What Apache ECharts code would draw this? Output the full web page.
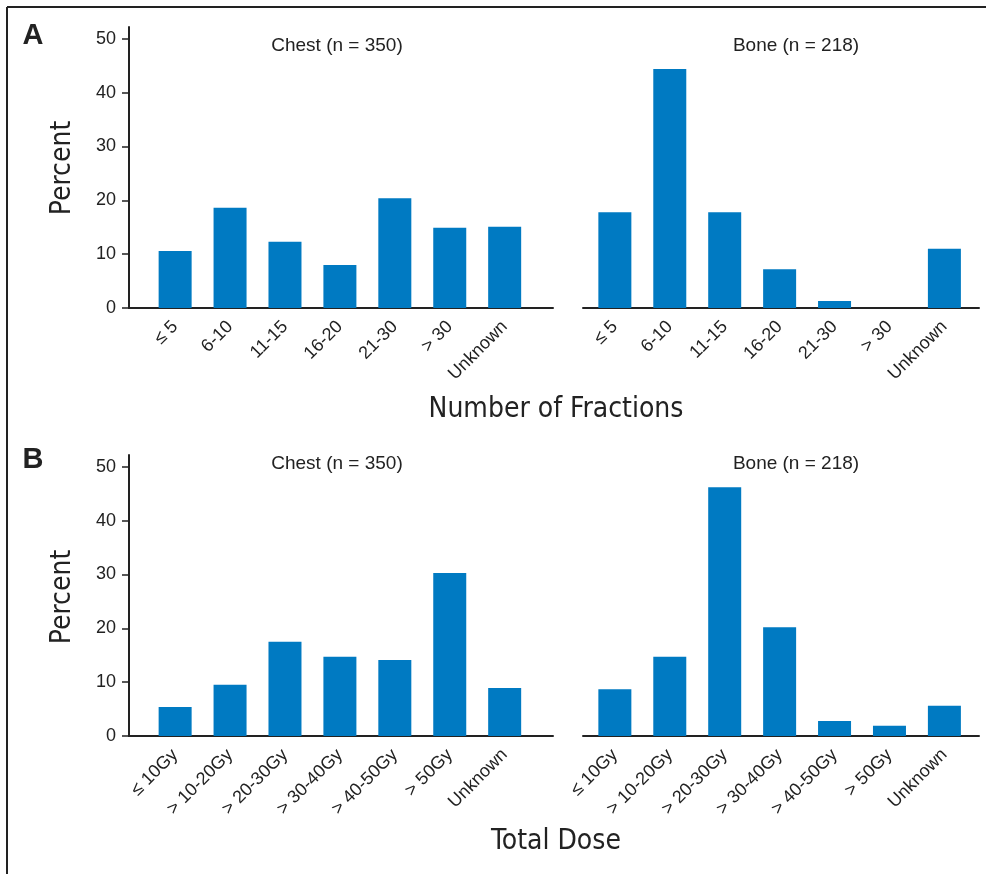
<!DOCTYPE html>
<html>
<head>
<meta charset="utf-8">
<script src="https://cdn.jsdelivr.net/npm/echarts@6/dist/echarts.min.js"></script>
<style>
html,body{margin:0;padding:0;background:#fff;}
#chart{width:986px;height:874px;}
</style>
</head>
<body>
<div id="chart"></div>
<script>
// ---- Data ----
const fractionCats = ['≤ 5', '6-10', '11-15', '16-20', '21-30', '> 30', 'Unknown'];
const doseCats = ['≤ 10Gy', '> 10-20Gy', '> 20-30Gy', '> 30-40Gy', '> 40-50Gy', '> 50Gy', 'Unknown'];
const chestFractions = [10.6, 18.6, 12.3, 8.0, 20.4, 14.9, 15.1];
const boneFractions = [17.8, 44.4, 17.8, 7.2, 1.3, 0, 11.0];
const chestDose = [5.4, 9.5, 17.5, 14.7, 14.1, 30.3, 8.9];
const boneDose = [8.7, 14.7, 46.2, 20.2, 2.8, 1.9, 5.6];
const yTicks = [0, 10, 20, 30, 40, 50];
const chestTitle = 'Chest (n = 350)';
const boneTitle = 'Bone (n = 218)';

// ---- Styles ----
const BAR = '#007ac2';
const INK = '#222';
const FONT = '"Liberation Sans", Arial, Helvetica, sans-serif';
const NARROW = '"Liberation Sans Narrow", "DejaVu Sans Condensed", "Liberation Sans", sans-serif';

const chart = echarts.init(document.getElementById('chart'));

const grids = [
  {left: 129, top: 27, width: 424, height: 281},
  {left: 583, top: 27, width: 396, height: 281},
  {left: 129, top: 455, width: 424, height: 281},
  {left: 583, top: 455, width: 396, height: 281}
];
const xRanges = [[-0.84, 6.88], [-0.58, 6.63], [-0.84, 6.88], [-0.58, 6.63]];
const catSets = [fractionCats, fractionCats, doseCats, doseCats];
const dataSets = [chestFractions, boneFractions, chestDose, boneDose];

const xAxes = grids.map((g, i) => ({
  gridIndex: i,
  type: 'value',
  min: xRanges[i][0],
  max: xRanges[i][1],
  axisLine: {show: true, onZero: false, lineStyle: {color: INK, width: 2}},
  axisTick: {show: false},
  splitLine: {show: false},
  axisLabel: {
    customValues: [0, 1, 2, 3, 4, 5, 6],
    formatter: v => catSets[i][Math.round(v)],
    rotate: 45,
    margin: 16,
    fontSize: 18,
    fontFamily: FONT,
    color: INK
  }
}));

const yAxes = grids.map((g, i) => {
  const show = (i % 2 === 0);
  return {
    gridIndex: i,
    type: 'value',
    position: 'left',
    min: 0,
    max: 52.2,
    show: show,
    axisLine: {show: show, onZero: false, lineStyle: {color: INK, width: 2}},
    axisTick: {show: show, customValues: yTicks, length: 7, lineStyle: {color: INK, width: 1.5}},
    splitLine: {show: false},
    axisLabel: {
      show: show,
      customValues: yTicks,
      margin: 13,
      fontSize: 18,
      fontFamily: FONT,
      color: INK
    }
  };
});

const series = dataSets.map((d, i) => ({
  type: 'bar',
  xAxisIndex: i,
  yAxisIndex: i,
  barWidth: 33,
  itemStyle: {color: BAR},
  silent: true,
  data: d.map((v, k) => [k, v])
}));

function txt(x, y, text, size, opts) {
  return {
    type: 'text',
    x: x, y: y,
    style: Object.assign({
      text: text,
      font: size + 'px ' + FONT,
      fill: INK,
      align: 'center',
      verticalAlign: 'middle'
    }, opts || {})
  };
}

const graphic = [
  // frame
  {type: 'line', shape: {x1: 7, y1: 7, x2: 986, y2: 7}, style: {stroke: INK, lineWidth: 2}},
  {type: 'line', shape: {x1: 7, y1: 7, x2: 7, y2: 874}, style: {stroke: INK, lineWidth: 2}},
  // panel letters
  txt(33, 36, 'A', 29, {font: 'bold 29px ' + FONT}),
  txt(33, 460, 'B', 29, {font: 'bold 29px ' + FONT}),
  // panel titles
  txt(337, 46, chestTitle, 19),
  txt(796, 46, boneTitle, 19),
  txt(337, 464, chestTitle, 19),
  txt(796, 464, boneTitle, 19),
  // axis names
  txt(556, 410, 'Number of Fractions', 28, {font: '28px ' + NARROW}),
  txt(556, 842, 'Total Dose', 28, {font: '28px ' + NARROW}),
  {type: 'text', x: 63, y: 168, rotation: Math.PI / 2,
   style: {text: 'Percent', font: '28px ' + NARROW, fill: INK, align: 'center', verticalAlign: 'middle'}},
  {type: 'text', x: 63, y: 597, rotation: Math.PI / 2,
   style: {text: 'Percent', font: '28px ' + NARROW, fill: INK, align: 'center', verticalAlign: 'middle'}}
];

chart.setOption({
  animation: false,
  backgroundColor: '#fff',
  grid: grids,
  xAxis: xAxes,
  yAxis: yAxes,
  series: series,
  graphic: graphic
});
</script>
</body>
</html>
